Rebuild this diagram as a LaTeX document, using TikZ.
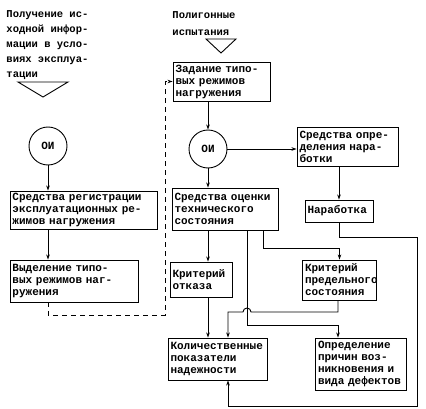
\documentclass[tikz,border=0pt]{standalone}
\usepackage{fontspec}
\setmonofont{Liberation Mono}
\usetikzlibrary{arrows.meta}
\begin{document}
\begin{tikzpicture}[x=1pt,y=-1pt,line width=0.9pt,
  >={Stealth[length=5pt,width=3.5pt]},
  blk/.style={draw,align=left,inner xsep=2.5pt,inner ysep=1pt,
    font=\ttfamily\bfseries\fontsize{11}{12}\selectfont},
  oi/.style={draw,circle,minimum size=38pt,inner sep=0pt,
    font=\ttfamily\bfseries\fontsize{11}{12}\selectfont},
  ttl/.style={align=left,anchor=north west,inner sep=0pt},
  dsh/.style={dash pattern=on 5pt off 4pt}]

\useasboundingbox (0,0) rectangle (426,409);

\node[ttl,font=\ttfamily\bfseries\fontsize{10.5}{15}\selectfont] (src) at (6,10)
  {Получение ис-\\ходной инфор-\\мации в усло-\\виях эксплуа-\\тации};
\node[ttl,font=\ttfamily\bfseries\fontsize{10.5}{17}\selectfont] (poly) at (172,11)
  {Полигонные\\испытания};
\draw (18,82) -- (68,82) -- (43,97) -- cycle;
\draw (206,39) -- (236,39) -- (221,53) -- cycle;

\node[oi] (oi1) at (48,146) {ОИ};
\node[oi] (oi2) at (208,149) {ОИ};

\node[blk,text width=92pt,minimum height=39pt] (zad) at (221.5,81.5)
  {Задание типо-\\вых режимов\\нагружения};
\node[blk,text width=142pt,minimum height=38pt] (reg) at (83.5,210)
  {Средства регистрации\\эксплуатационных ре-\\жимов нагружения};
\node[blk,text width=123pt,minimum height=42pt] (vyd) at (74,281)
  {Выделение типо-\\вых режимов наг-\\ружения};
\node[blk,text width=96pt,minimum height=39pt] (nsr) at (347.5,146.5)
  {Средства опре-\\деления нара-\\ботки};
\node[blk,text width=63pt,minimum height=22pt] (nar) at (339,211)
  {Наработка};
\node[blk,text width=101pt,minimum height=42pt] (ots) at (225,209)
  {Средства оценки\\технического\\состояния};
\node[blk,text width=57pt,minimum height=35pt] (otk) at (201,279.5)
  {Критерий\\отказа};
\node[blk,text width=69pt,minimum height=40pt] (pred) at (339.5,280)
  {Критерий\\предельного\\состояния};
\node[blk,text width=94pt,minimum height=42pt] (kol) at (217.5,359)
  {Количественные\\показатели\\надежности};
\node[blk,text width=86pt,minimum height=52pt] (opr) at (361,364)
  {Определение\\причин воз-\\никновения и\\вида дефектов};

\coordinate (d1) at (165,315);
\coordinate (c1) at (263,248);
\coordinate (c2) at (247,325);
\coordinate (c3) at (338,325);
\coordinate (c4) at (228,312);
\coordinate (c5) at (417,237);
\coordinate (c6) at (417,406);
\coordinate (c7) at (228,406);

\draw[->] (oi1.south) -- (oi1.south |- reg.north);
\draw[->] (reg.south -| oi1) -- (vyd.north -| oi1);
\draw[->,dsh] (vyd.south -| oi1) |- (d1) |- (zad.west);
\draw[->] (zad.south -| oi2) -- (oi2.north);
\draw[->] (oi2.east) -- (oi2.east -| nsr.west);
\draw[->] (nsr.south -| nar) -- (nar.north);
\draw[->] (oi2.south) -- (oi2.south |- ots.north);
\draw[->] (ots.south -| oi2) -- (otk.north -| oi2);
\draw[->] (otk.south -| oi2) -- (kol.north -| oi2);
\draw[->] (ots.south -| c1) -- (c1) -| (pred.north);
\draw[->] (ots.south -| c2) -- (c2) -- (c3) -- (c3 |- opr.north);
\draw[->] (pred.south -| c3) -- (c3 |- c4) -- (251,312)
  arc[start angle=0,end angle=180,radius=4pt] -- (c4) -- (c4 |- kol.north);
\draw[->] (nar.south) |- (c5) -- (c6) -- (c7) -- (c7 |- kol.south);
\end{tikzpicture}
\end{document}
